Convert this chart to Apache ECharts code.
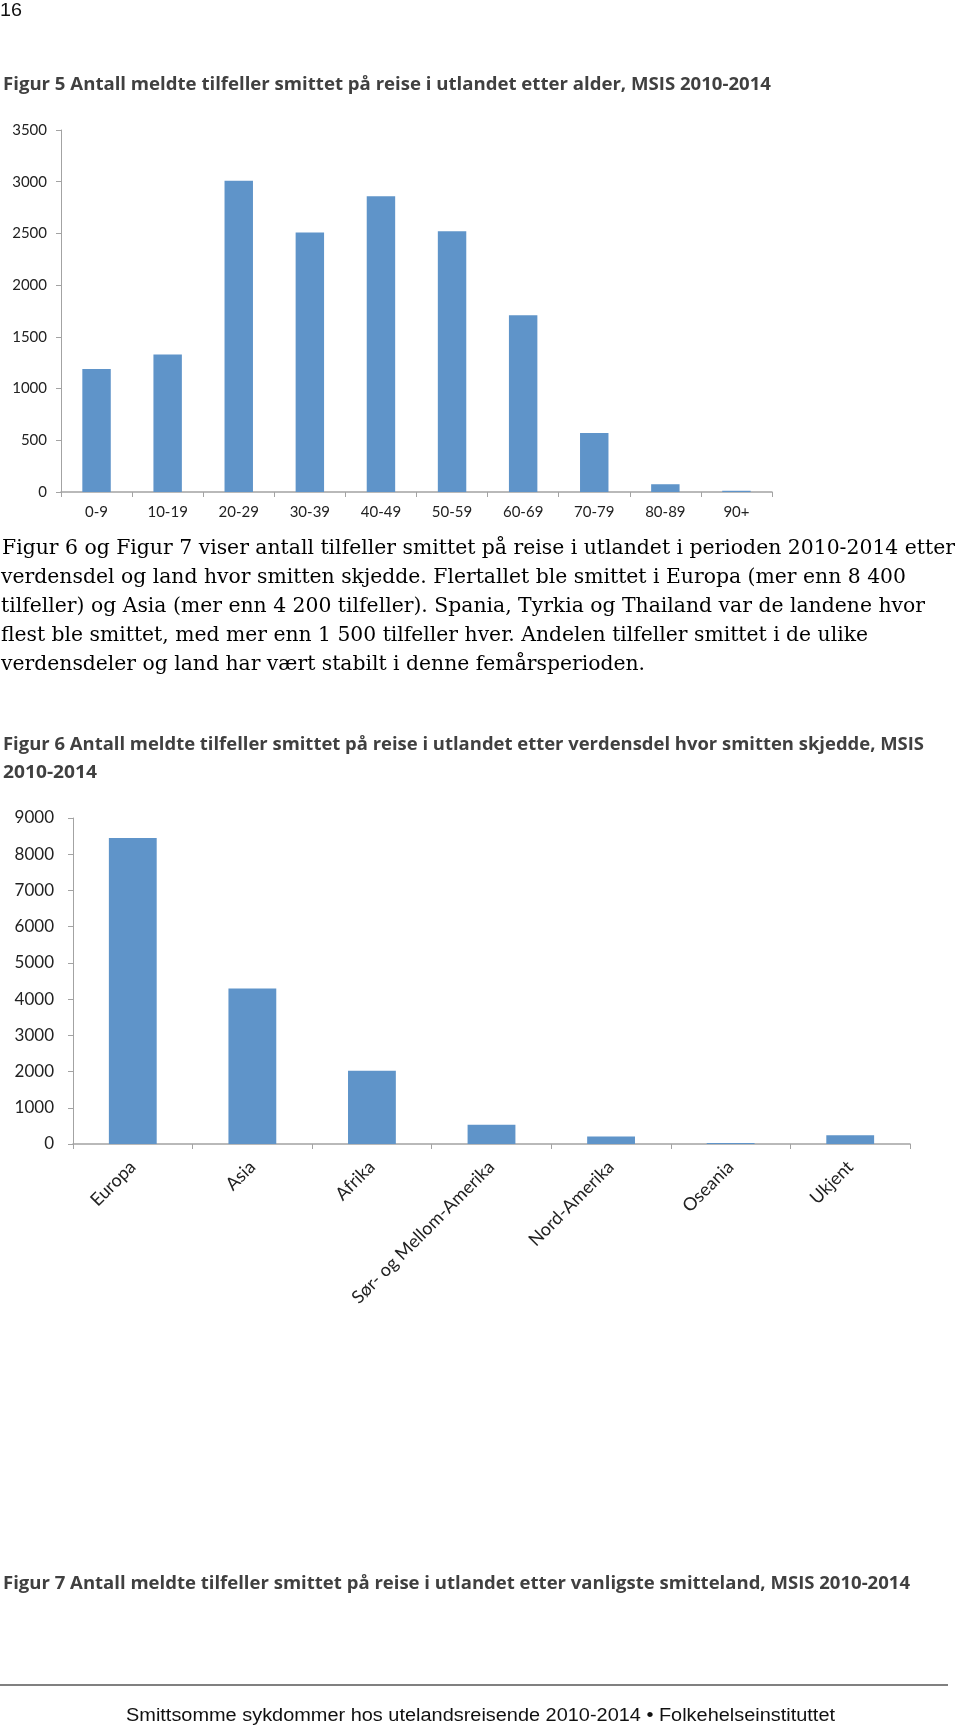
<!DOCTYPE html>
<html>
<head>
<meta charset="utf-8">
<script src="https://cdn.jsdelivr.net/npm/echarts@6/dist/echarts.min.js"></script>
<style>
  body { margin: 0; background: #fff; }
  #page { position: relative; width: 960px; height: 1728px; overflow: hidden; }
  #chart { position: absolute; left: 0; top: 0; width: 960px; height: 1728px; }
  .t { position: absolute; white-space: nowrap; transform-origin: 0 50%; z-index: 2; }
  .cap { font-family: "Open Sans", sans-serif; font-weight: 700; font-size: 17.5px; color: #404040; line-height: 24px; }
  .body { font-family: "DejaVu Serif Condensed", "DejaVu Serif", serif; font-stretch: condensed; font-size: 20px; color: #000; line-height: 24px; }
  .foot { font-family: "Liberation Sans", Arial, sans-serif; font-size: 18px; color: #111; line-height: 24px; }
  #rule { position: absolute; left: 0; top: 1684px; width: 948px; height: 2px; background: #808080; z-index: 2; }
</style>
</head>
<body>
<div id="page">
  <div id="chart"></div>
  <div id="rule"></div>
</div>
<script>
// Figur 5: alder
var ageGroups = ['0-9', '10-19', '20-29', '30-39', '40-49', '50-59', '60-69', '70-79', '80-89', '90+'];
var ageCases = [1190, 1330, 3010, 2510, 2860, 2520, 1710, 570, 75, 12];
var ageMax = 3500, ageStep = 500;

// Figur 6: verdensdel
var regions = ['Europa', 'Asia', 'Afrika', 'Sør- og Mellom-Amerika', 'Nord-Amerika', 'Oseania', 'Ukjent'];
var regionCases = [8450, 4290, 2020, 530, 210, 30, 240];
var regionMax = 9000, regionStep = 1000;

var barColor = '#5f94c9';
var axisGray = '#a3a3a3';

// page text: [text, class, left, centre y, width]
var texts = [
  ['16', 'foot', 0, 10, 22],
  ['Figur 5 Antall meldte tilfeller smittet på reise i utlandet etter alder, MSIS 2010-2014', 'cap', 3, 83, 768],
  [' Figur 6 og Figur 7 viser antall tilfeller smittet på reise i utlandet i perioden 2010-2014 etter', 'body', 2, 547, 953],
  ['verdensdel og land hvor smitten skjedde. Flertallet ble smittet i Europa (mer enn 8 400', 'body', 1, 576, 905],
  ['tilfeller) og Asia (mer enn 4 200 tilfeller). Spania, Tyrkia og Thailand var de landene hvor', 'body', 1, 605, 924],
  ['flest ble smittet, med mer enn 1 500 tilfeller hver. Andelen tilfeller smittet i de ulike', 'body', 1, 634, 867],
  ['verdensdeler og land har vært stabilt i denne femårsperioden.', 'body', 1, 663, 644],
  ['Figur 6 Antall meldte tilfeller smittet på reise i utlandet etter verdensdel hvor smitten skjedde, MSIS', 'cap', 3, 743, 921],
  ['2010-2014', 'cap', 3, 771, 94],
  ['Figur 7 Antall meldte tilfeller smittet på reise i utlandet etter vanligste smitteland, MSIS 2010-2014', 'cap', 3, 1582, 907],
  ['Smittsomme sykdommer hos utelandsreisende 2010-2014 • Folkehelseinstituttet', 'foot', 126, 1715, 709]
];

var page = document.getElementById('page');
texts.forEach(function (t) {
  var el = document.createElement('div');
  el.className = 't ' + t[1];
  el.textContent = t[0];
  el.style.left = t[2] + 'px';
  el.style.top = (t[3] - 12) + 'px';
  page.appendChild(el);
  var w = el.getBoundingClientRect().width;
  el.style.transform = 'scaleX(' + (t[4] / w) + ')';
});

var myChart = echarts.init(document.getElementById('chart'), null, { renderer: 'canvas' });

function valueAxis(idx, max, step, size, margin) {
  return {
    type: 'value', gridIndex: idx, min: 0, max: max, interval: step,
    splitLine: { show: false },
    axisLine: { show: true, lineStyle: { color: axisGray, width: 1 } },
    axisTick: { show: true, length: 5, lineStyle: { color: axisGray } },
    axisLabel: {
      fontFamily: 'Lato', fontSize: size, color: '#222', margin: margin,
      formatter: function (v) { return String(v); }
    }
  };
}

var option = {
  backgroundColor: '#fff',
  animation: false,
  grid: [
    { left: 61, top: 130, width: 711, height: 362 },
    { left: 73, top: 818, width: 837, height: 326 }
  ],
  xAxis: [
    {
      type: 'category', gridIndex: 0, data: ageGroups,
      axisLine: { lineStyle: { color: axisGray, width: 1.5 } },
      axisTick: { show: true, length: 5, interval: 0, lineStyle: { color: axisGray } },
      axisLabel: { interval: 0, fontFamily: 'Lato', fontSize: 15, color: '#222', margin: 13 }
    },
    {
      type: 'category', gridIndex: 1, data: regions,
      axisLine: { lineStyle: { color: axisGray, width: 1.5 } },
      axisTick: { show: true, length: 5, interval: 0, lineStyle: { color: axisGray } },
      axisLabel: { interval: 0, rotate: 45, fontFamily: 'Lato', fontSize: 18, color: '#222', margin: 20 }
    }
  ],
  yAxis: [
    valueAxis(0, ageMax, ageStep, 15, 14),
    valueAxis(1, regionMax, regionStep, 17, 19)
  ],
  series: [
    { type: 'bar', xAxisIndex: 0, yAxisIndex: 0, data: ageCases, barWidth: '40%', itemStyle: { color: barColor } },
    { type: 'bar', xAxisIndex: 1, yAxisIndex: 1, data: regionCases, barWidth: '40%', itemStyle: { color: barColor } }
  ]
};
myChart.setOption(option);
</script>
</body>
</html>
